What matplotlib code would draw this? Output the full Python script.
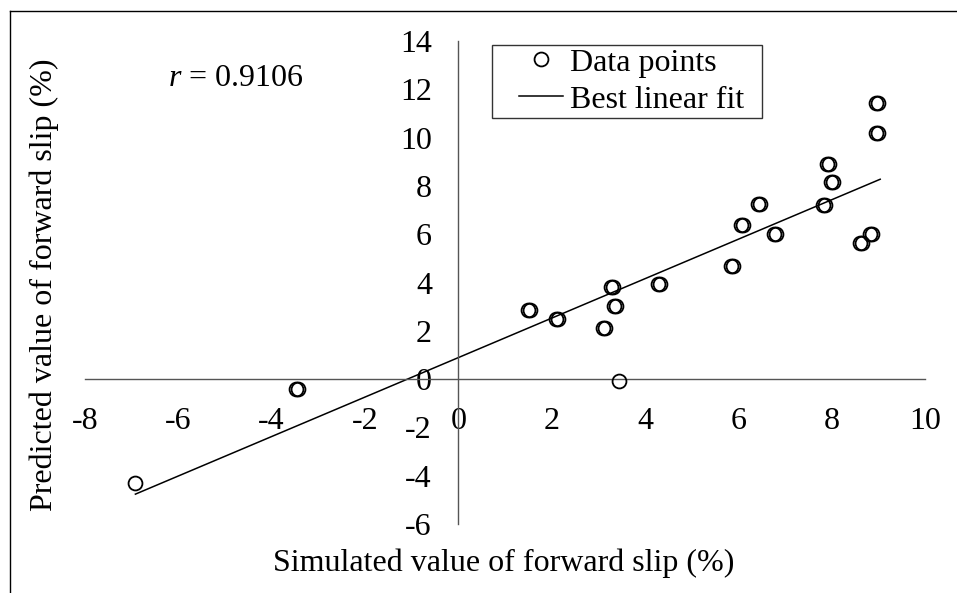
import matplotlib
matplotlib.use("Agg")
import matplotlib.pyplot as plt
from matplotlib.lines import Line2D
from matplotlib.patches import Rectangle
from matplotlib.legend_handler import HandlerLine2D
import numpy as np

# Simulated vs. predicted forward slip (%)
sim_x = [-6.92, -3.47, -3.43, 1.50, 1.54, 2.10, 2.14, 3.11, 3.15, 3.28, 3.32,
         3.34, 3.38, 3.45, 4.28, 4.32, 5.85, 5.89, 6.06, 6.10, 6.43, 6.47,
         6.77, 6.81, 7.82, 7.86, 7.90, 7.94, 7.99, 8.03, 8.61, 8.65, 8.82,
         8.86, 8.95, 8.99, 8.95, 8.99]
pred_y = [-4.31, -0.41, -0.41, 2.86, 2.86, 2.48, 2.48, 2.11, 2.11, 3.81, 3.81,
          3.02, 3.02, -0.08, 3.93, 3.93, 4.68, 4.68, 6.38, 6.38, 7.25, 7.25,
          6.00, 6.00, 7.20, 7.20, 8.90, 8.90, 8.16, 8.16, 5.63, 5.63, 6.00,
          6.00, 10.19, 10.19, 11.43, 11.43]

# Linear fit of predicted on simulated values
fit_slope = 0.817
fit_intercept = 0.89
fit_x_range = [-6.92, 9.04]
r_value = 0.9106

x_ticks = [-8, -6, -4, -2, 0, 2, 4, 6, 8, 10]
y_ticks = [-6, -4, -2, 0, 2, 4, 6, 8, 10, 12, 14]

plt.rcParams["font.family"] = ["Liberation Serif", "DejaVu Serif"]
plt.rcParams["axes.unicode_minus"] = False
plt.rcParams["mathtext.fontset"] = "custom"
plt.rcParams["mathtext.rm"] = "Liberation Serif"
plt.rcParams["mathtext.it"] = "Liberation Serif:italic"

W, H = 957, 593
fig = plt.figure(figsize=(W / 100, H / 100), dpi=100)
ax = fig.add_axes([85 / W, 1 - 524 / H, (925 - 85) / W, (524 - 41) / H])

fs = 23
axis_color = "#555555"

fx = np.array(fit_x_range)
ax.plot(fx, fit_slope * fx + fit_intercept, color="black", lw=1.1,
        label="Best linear fit", zorder=2)
ax.plot(sim_x, pred_y, linestyle="none", marker="o", markersize=10,
        markerfacecolor="none", markeredgecolor="black", markeredgewidth=1.3,
        label="Data points", zorder=3)

ax.set_xlim(-8, 10)
ax.set_ylim(-6, 14)
ax.set_xticks(x_ticks)
ax.set_yticks(y_ticks)
ax.set_xticklabels([str(t) for t in x_ticks])
ax.set_yticklabels([str(t) for t in y_ticks])

for side in ("top", "right"):
    ax.spines[side].set_visible(False)
ax.spines["left"].set_position(("data", 0))
ax.spines["bottom"].set_position(("data", 0))
for side in ("left", "bottom"):
    ax.spines[side].set_color(axis_color)
    ax.spines[side].set_linewidth(1.0)
ax.patch.set_visible(False)

ax.tick_params(axis="x", length=0, pad=20, labelsize=fs)
ax.tick_params(axis="y", length=0, pad=19, labelsize=fs)

# Axis titles placed in figure coordinates
fig.text(504 / W, 1 - 563 / H, "Simulated value of forward slip (%)",
         ha="center", va="center", fontsize=fs)
fig.text(44 / W, 1 - 285 / H, "Predicted value of forward slip (%)",
         ha="center", va="center", rotation=90, fontsize=fs)

fig.text(168 / W, 1 - 78 / H, r"$r$ = %.4f" % r_value,
         ha="left", va="center", fontsize=fs)

# Legend: entries without frame, box drawn separately
handles, labels = ax.get_legend_handles_labels()
leg = fig.legend(handles[::-1], labels[::-1], loc="upper left",
                 bbox_to_anchor=(492 / W, 1 - 45 / H), fontsize=fs,
                 frameon=False, borderpad=0.1, labelspacing=0.24,
                 handlelength=2.12, handletextpad=0.22, borderaxespad=0,
                 handler_map={h: HandlerLine2D(xpad=0.73) for h in handles})
fig.add_artist(Rectangle((492 / W, 1 - 118 / H), (762 - 492) / W, (118 - 45) / H,
                         transform=fig.transFigure, fill=False,
                         edgecolor="#333333", lw=1.0))

# Outer frame around the figure
fig.add_artist(Line2D([10 / W, 10 / W], [-0.05, 1 - 11 / H],
                      transform=fig.transFigure, color="black", lw=1.0))
fig.add_artist(Line2D([10 / W, 1.05], [1 - 11 / H, 1 - 11 / H],
                      transform=fig.transFigure, color="black", lw=1.0))

fig.savefig("out.png", dpi=100)
